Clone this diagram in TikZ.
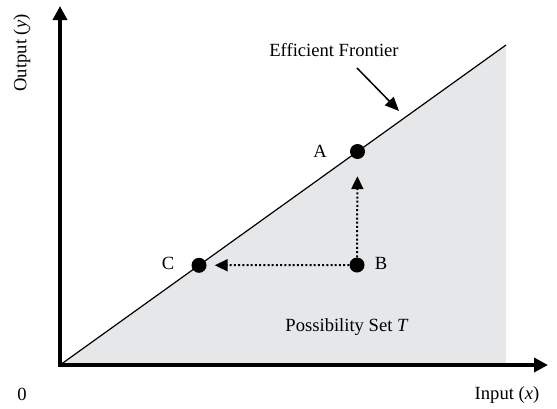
\documentclass[tikz,border=0pt]{standalone}
\usepackage{fontspec}
\setmainfont{Liberation Serif}
\usetikzlibrary{arrows.meta}
\definecolor{setgray}{RGB}{230,231,233}
\tikzset{
  lbl/.style={font=\fontsize{18.6}{21}\selectfont, inner sep=0pt},
  axis/.style={line width=4pt, -{Triangle[length=14pt,width=14pt]}},
  dotarrow/.style={line width=2pt, dash pattern=on 2pt off 2.2pt, -{Triangle[length=13pt,width=12pt]}},
  dot/.style={circle, fill=black, minimum size=15pt, inner sep=0pt},
}
\begin{document}
\begin{tikzpicture}[x=1pt,y=-1pt]
\useasboundingbox (0,0) rectangle (557,408);
\coordinate (O) at (60,365);
\coordinate (T) at (506,45);
\coordinate (R) at (506,365);
\coordinate (Ytop) at (60,6);
\coordinate (Xend) at (548,365);
\fill[setgray] (O) -- (T) -- (R) -- cycle;
\draw[line width=1.2pt] (O) -- (T);
\draw[axis, line cap=rect] (60,365) -- (Ytop);
\draw[axis] (58,365) -- (Xend);
\node[dot] (A) at (357.5,151.5) {};
\node[dot] (B) at (357,265) {};
\node[dot] (C) at (199,265.3) {};
\draw[dotarrow, shorten >=17pt] (B) -- (A);
\draw[dotarrow, shorten >=8pt] (B) -- (C);
\node[lbl] (la) at (320,151) {A};
\node[lbl] (lb) at (381,263) {B};
\node[lbl] (lc) at (168,263) {C};
\node[lbl] (ef) at (334,50) {Efficient Frontier};
\coordinate (efs) at (357,68);
\coordinate (efe) at (399,111);
\draw[line width=1.5pt, -{Triangle[length=14pt,width=12pt]}] (efs) -- (efe);
\node[lbl] (ps) at (347,327) {Possibility Set \textit{T}};
\node[lbl] (zero) at (22,394) {0};
\node[lbl] (xl) at (507,395) {Input (\textit{x})};
\node[lbl, rotate=90] (yl) at (22,53) {Output (\textit{y})};
\end{tikzpicture}
\end{document}
